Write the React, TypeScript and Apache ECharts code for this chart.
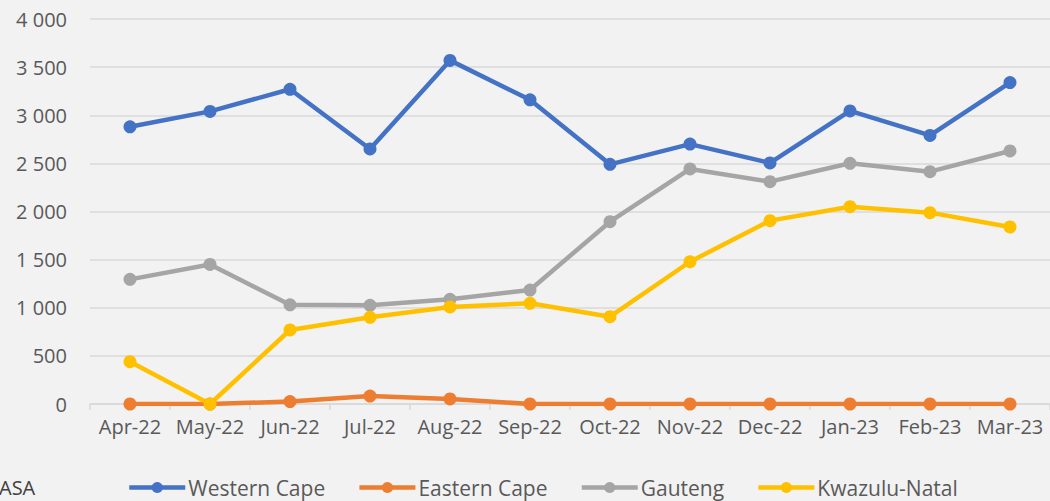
import React, { useEffect, useRef } from "react";
import * as echarts from "echarts";

const categories = ["Apr-22", "May-22", "Jun-22", "Jul-22", "Aug-22", "Sep-22", "Oct-22", "Nov-22", "Dec-22", "Jan-23", "Feb-23", "Mar-23"];
const westernCape = [2880, 3040, 3270, 2650, 3570, 3160, 2490, 2700, 2505, 3045, 2790, 3340];
const easternCape = [0, 0, 25, 83, 52, 0, 0, 0, 0, 0, 0, 0];
const gauteng = [1295, 1450, 1030, 1025, 1088, 1184, 1894, 2442, 2310, 2501, 2414, 2629];
const kwazuluNatal = [440, 0, 769, 901, 1008, 1046, 907, 1478, 1905, 2050, 1988, 1839];
const seriesNames = ["Western Cape", "Eastern Cape", "Gauteng", "Kwazulu-Natal"];
const colors = ["#4472c4", "#ed7d31", "#a5a5a5", "#ffc000"];
const sourceText = "ASA";

const FONT = "'Open Sans', sans-serif";
const TEXT = "#595959";

export default function App() {
  const ref = useRef<HTMLDivElement>(null);
  useEffect(() => {
    document.body.style.margin = "0";
    const chart = echarts.init(ref.current!, null, { renderer: "svg" });
    const data = [westernCape, easternCape, gauteng, kwazuluNatal];
    chart.setOption({
      animation: false,
      backgroundColor: "#f2f2f2",
      color: colors,
      textStyle: { fontFamily: FONT, color: TEXT },
      grid: { left: 90, right: -2, top: 19, bottom: 97, containLabel: false },
      legend: {
        left: 122,
        top: 472,
        itemWidth: 56,
        itemHeight: 14,
        itemGap: 32,
        lineStyle: { width: 4.5 },
        textStyle: { fontFamily: FONT, fontSize: 21, color: TEXT, padding: [0, 0, 0, -2] },
        data: seriesNames,
      },
      graphic: [
        {
          type: "text",
          left: -1,
          top: 477,
          style: { text: sourceText, fontFamily: FONT, fontSize: 20, fill: "#404040" },
        },
      ],
      xAxis: {
        type: "category",
        data: categories,
        boundaryGap: true,
        axisLine: { lineStyle: { color: "#d9d9d9", width: 1.5 } },
        axisTick: { show: true, length: 6, lineStyle: { color: "#d9d9d9", width: 1.5 } },
        axisLabel: { fontFamily: FONT, fontSize: 20, color: TEXT, margin: 12, interval: 0 },
      },
      yAxis: {
        type: "value",
        min: 0,
        max: 4000,
        interval: 500,
        axisLine: { show: false },
        axisTick: { show: false },
        splitLine: { lineStyle: { color: "#d9d9d9", width: 1.5 } },
        axisLabel: {
          fontFamily: FONT,
          fontSize: 20,
          color: TEXT,
          margin: 23,
          formatter: (v: number) => String(v).replace(/\B(?=(\d{3})+(?!\d))/g, " "),
        },
      },
      series: seriesNames.map((name, i) => ({
        name,
        type: "line",
        data: data[i],
        symbol: "circle",
        symbolSize: 13,
        lineStyle: { width: 4.5, color: colors[i] },
        itemStyle: { color: colors[i] },
      })),
    });
    return () => chart.dispose();
  }, []);
  return <div ref={ref} style={{ position: "absolute", left: 0, top: 0, width: 1050, height: 501 }} />;
}
